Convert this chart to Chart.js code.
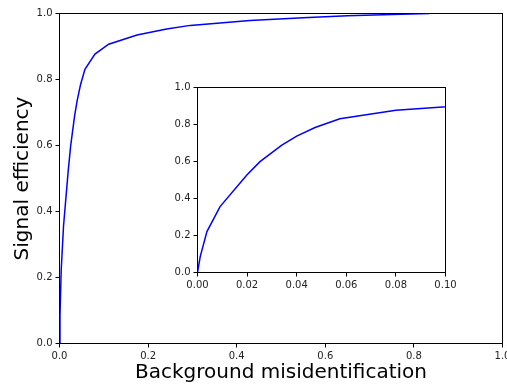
<!DOCTYPE html>
<html>
<head>
<meta charset="utf-8">
<script src="https://cdn.jsdelivr.net/npm/chart.js@4"></script>
<style>
  html, body { margin: 0; padding: 0; background: #fff; }
  #wrap { position: relative; width: 507px; height: 386px; }
  #wrap canvas { position: absolute; left: 0; top: 0; }
</style>
</head>
<body>
<div id="wrap">
  <canvas id="mainChart" width="507" height="386"></canvas>
  <canvas id="insetChart" width="507" height="386"></canvas>
</div>
<script>
// ROC curve
const bkgMisid = [0, 0.0011, 0.0038, 0.0091, 0.0199, 0.0252, 0.034, 0.040, 0.0474, 0.0574,
                  0.080, 0.111, 0.175, 0.242, 0.295, 0.43, 0.55, 0.65, 0.75, 0.835];
const sigEff   = [0, 0.086, 0.221, 0.356, 0.527, 0.599, 0.689, 0.737, 0.784, 0.831,
                  0.877, 0.907, 0.935, 0.953, 0.964, 0.979, 0.987, 0.993, 0.997, 1.0];

const mainXTicks = [0, 0.2, 0.4, 0.6, 0.8, 1.0];
const insetXTicks = [0, 0.02, 0.04, 0.06, 0.08, 0.10];
const yTicks = [0, 0.2, 0.4, 0.6, 0.8, 1.0];

const points = bkgMisid.map((x, i) => ({ x: x, y: sigEff[i] }));

const fontFamily = "'DejaVu Sans', sans-serif";
const textColor = '#222';

// draws the top/right spines of the axes box
const frame = {
    id: 'frame',
    beforeDatasetsDraw(chart) {
        const { ctx, chartArea: a } = chart;
        ctx.save();
        ctx.strokeStyle = '#000';
        ctx.lineWidth = 1;
        ctx.strokeRect(a.left, a.top, a.right - a.left, a.bottom - a.top);
        ctx.restore();
    }
};

// pin axis size and drop the label overhang padding
function fixSize(size) {
    return s => {
        if (s.isHorizontal()) s.height = size; else s.width = size;
        s.paddingLeft = s.paddingRight = s.paddingTop = s.paddingBottom = 0;
    };
}

function axis(ticks, digits, extra) {
    return Object.assign({
        type: 'linear',
        min: ticks[0],
        max: ticks[ticks.length - 1],
        afterBuildTicks: s => { s.ticks = ticks.map(v => ({ value: v })); },
        grid: { drawOnChartArea: false, drawTicks: true, tickLength: 4, color: '#000' },
        border: { display: true, color: '#000', width: 1 },
        ticks: {
            padding: 3,
            color: textColor,
            font: { family: fontFamily, size: 10 },
            maxRotation: 0,
            autoSkip: false,
            callback: v => Number(v).toFixed(digits)
        }
    }, extra || {});
}

function lineDataset() {
    return {
        data: points,
        borderColor: '#0000ff',
        borderWidth: 1.5,
        pointRadius: 0,
        tension: 0,
        fill: false
    };
}

function baseOptions() {
    return {
        responsive: false,
        animation: false,
        plugins: { legend: { display: false }, tooltip: { enabled: false } }
    };
}

// main plot
const mainOpts = baseOptions();
mainOpts.layout = { autoPadding: false, padding: { left: 0, top: 13.5, right: 4.5, bottom: 0 } };
mainOpts.scales = {
    x: axis(mainXTicks, 1, {
        afterFit: fixSize(42.5),
        title: {
            display: true, text: 'Background misidentification', color: '#000',
            font: { family: fontFamily, size: 20 }, padding: { top: 0, bottom: 1.5 }
        }
    }),
    y: axis(yTicks, 1, {
        afterFit: fixSize(59.5),
        title: {
            display: true, text: 'Signal efficiency', color: '#000',
            font: { family: fontFamily, size: 20 }, padding: { top: 10.5, bottom: 0 }
        }
    })
};
new Chart(document.getElementById('mainChart'), {
    type: 'line',
    data: { datasets: [lineDataset()] },
    options: mainOpts,
    plugins: [frame, {
        id: 'bg',
        beforeDraw(chart) {
            const ctx = chart.ctx;
            ctx.save();
            ctx.fillStyle = '#fff';
            ctx.fillRect(0, 0, chart.width, chart.height);
            ctx.restore();
        }
    }]
});

// inset zoom on the low misidentification region
const insetOpts = baseOptions();
insetOpts.layout = { autoPadding: false, padding: { left: 150, top: 87.5, right: 61.5, bottom: 0 } };
insetOpts.scales = {
    x: axis(insetXTicks, 2, { afterFit: fixSize(113.5) }),
    y: axis(yTicks, 1, { afterFit: fixSize(47.5) })
};
new Chart(document.getElementById('insetChart'), {
    type: 'line',
    data: { datasets: [lineDataset()] },
    options: insetOpts,
    plugins: [frame]
});
</script>
</body>
</html>
